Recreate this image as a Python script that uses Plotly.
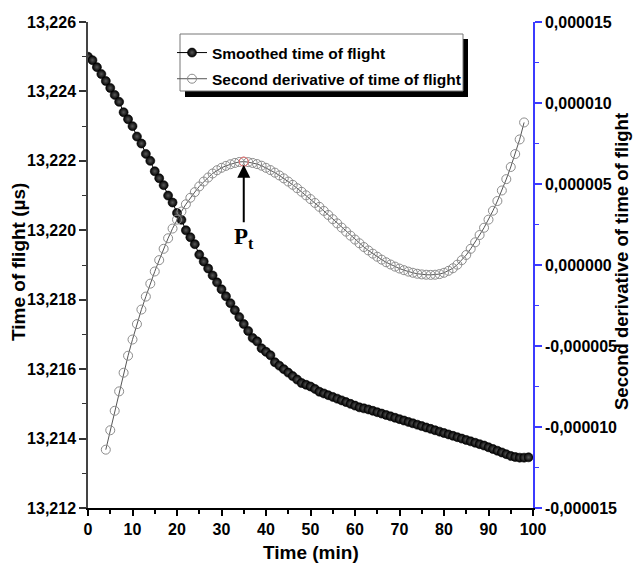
import plotly.graph_objects as go

# Smoothed time of flight (µs), one sample per minute
time_tof = list(range(0, 100))
tof_smoothed = [
    13.2250, 13.2249, 13.2247, 13.2245, 13.2243, 13.2241, 13.2239, 13.2237, 13.2234, 13.2232,
    13.2230, 13.2227, 13.2225, 13.2222, 13.2220, 13.2217, 13.2215, 13.2213, 13.2210, 13.2208,
    13.2205, 13.2203, 13.2200, 13.2198, 13.2196, 13.2193, 13.2191, 13.2189, 13.2187, 13.2185,
    13.2183, 13.2181, 13.2179, 13.2177, 13.2175, 13.2173, 13.2171, 13.2169, 13.2168, 13.2166,
    13.2165, 13.2164, 13.2162, 13.2161, 13.2160, 13.2159, 13.2158, 13.2157, 13.2156, 13.21555,
    13.2155, 13.21543, 13.21535, 13.2153, 13.21525, 13.2152, 13.21515, 13.2151, 13.21505, 13.2150,
    13.21495, 13.2149, 13.21487, 13.21484, 13.2148, 13.21476, 13.21472, 13.21468, 13.21464, 13.2146,
    13.21456, 13.21452, 13.21448, 13.21444, 13.2144, 13.21436, 13.21432, 13.21428, 13.21424, 13.2142,
    13.21416, 13.21412, 13.21408, 13.21404, 13.2140, 13.21396, 13.21392, 13.21388, 13.21384, 13.2138,
    13.21375, 13.2137, 13.21365, 13.2136, 13.21355, 13.2135, 13.21347, 13.21345, 13.21345, 13.21346,
]

# Second derivative of the time of flight, in units of 1e-6
time_d2 = list(range(4, 99))
d2_micro = [
    -11.4, -10.2, -9.0, -7.8, -6.65, -5.6, -4.6, -3.65, -2.75, -1.95,
    -1.15, -0.4, 0.3, 1.0, 1.65, 2.25, 2.8, 3.3, 3.75, 4.15,
    4.5, 4.85, 5.15, 5.4, 5.65, 5.85, 6.0, 6.12, 6.22, 6.3,
    6.36, 6.38, 6.35, 6.3, 6.23, 6.13, 6.0, 5.86, 5.7, 5.53,
    5.35, 5.15, 4.95, 4.74, 4.52, 4.3, 4.07, 3.83, 3.59, 3.34,
    3.09, 2.83, 2.57, 2.31, 2.06, 1.81, 1.57, 1.34, 1.11, 0.9,
    0.7, 0.51, 0.33, 0.17, 0.03, -0.1, -0.22, -0.32, -0.41, -0.48,
    -0.54, -0.58, -0.6, -0.61, -0.6, -0.56, -0.48, -0.36, -0.2, 0.02,
    0.3, 0.62, 1.0, 1.4, 1.85, 2.3, 2.8, 3.35, 3.95, 4.6,
    5.3, 6.05, 6.85, 7.75, 8.8,
]
MICRO = 1e-6
d2 = [v * MICRO for v in d2_micro]

# Inflection point P_t: first local maximum of the second derivative
i_peak = next(i for i in range(1, len(d2) - 1) if d2[i] >= d2[i - 1] and d2[i] >= d2[i + 1])
t_peak, d2_peak = time_d2[i_peak], d2[i_peak]

x_ticks = [0, 10, 20, 30, 40, 50, 60, 70, 80, 90, 100]
y2_tickvals = [-15e-6, -10e-6, -5e-6, 0.0, 5e-6, 10e-6, 15e-6]
y2_ticktext = ["-0,000015", "-0,000010", "-0,000005", "0,000000",
               "0,000005", "0,000010", "0,000015"]

W, H = 633, 572
ML, MR, MT, MB = 88, 100, 22, 64
PW, PH = W - ML - MR, H - MT - MB


def px(xp):
    return (xp - ML) / PW


def py(yp):
    return (H - MB - yp) / PH


FONT = "Liberation Sans, Arial, sans-serif"
tick_font = dict(family=FONT, size=16, color="black", weight="bold")
title_font = dict(family=FONT, size=19, color="black", weight="bold")
BLUE = "#3b3bff"

fig = go.Figure()

fig.add_trace(go.Scatter(
    x=time_d2, y=d2, yaxis="y2", xaxis="x",
    name="Second derivative of time of flight",
    mode="lines+markers",
    line=dict(color="#555555", width=1),
    marker=dict(symbol="circle-open", size=9, color="#8c8c8c", line=dict(width=1)),
    legendrank=2, legendgroup="d2",
))

fig.add_trace(go.Scatter(
    x=time_tof, y=tof_smoothed, yaxis="y", xaxis="x",
    name="Smoothed time of flight",
    mode="lines+markers",
    line=dict(color="black", width=1),
    marker=dict(symbol="circle", size=9, color="#000000",
                gradient=dict(type="radial", color="#585858"),
                line=dict(color="#000000", width=0.6)),
    legendrank=1, legendgroup="tof",
))

fig.add_trace(go.Scatter(
    x=[t_peak], y=[d2_peak], yaxis="y2", xaxis="x",
    mode="markers", showlegend=False, hoverinfo="skip",
    marker=dict(symbol="circle-open", size=9, color="#f07070", line=dict(width=1)),
))

# Legend frame with drop shadow
shapes = [
    dict(type="rect", xref="paper", yref="paper", layer="above",
         x0=px(185), x1=px(468), y0=py(97), y1=py(39),
         fillcolor="black", line=dict(width=0)),
    dict(type="rect", xref="paper", yref="paper", layer="above",
         x0=px(180), x1=px(463), y0=py(91), y1=py(34),
         fillcolor="white", line=dict(color="#777777", width=1)),
]

annotations = [
    dict(text="Time (min)", xref="paper", yref="paper", x=0.5, y=py(552),
         xanchor="center", yanchor="middle", showarrow=False, font=title_font),
    dict(text="Time of flight (µs)", xref="paper", yref="paper", x=px(18), y=py(262),
         xanchor="center", yanchor="middle", textangle=-90, showarrow=False, font=title_font),
    dict(text="Second derivative of time of flight", xref="paper", yref="paper",
         x=px(621), y=py(262), xanchor="center", yanchor="middle", textangle=-90,
         showarrow=False, font=dict(family=FONT, size=18.5, color="black", weight="bold")),
    dict(text="P<sub>t</sub>", x=t_peak, y=d2_peak, xref="x", yref="y2",
         showarrow=True, ax=0, ay=76, arrowhead=2, arrowsize=1.3, arrowwidth=2,
         arrowcolor="black", standoff=3,
         font=dict(family="Liberation Serif, Times New Roman, serif", size=23,
                   color="black", weight="bold")),
]

fig.update_layout(
    width=W, height=H,
    margin=dict(l=ML, r=MR, t=MT, b=MB, pad=0),
    paper_bgcolor="white", plot_bgcolor="white",
    separators=",.",
    showlegend=True,
    legend=dict(x=px(172), y=py(36), xanchor="left", yanchor="top",
                xref="paper", yref="paper",
                bgcolor="rgba(0,0,0,0)", borderwidth=0,
                tracegroupgap=3,
                font=dict(family=FONT, size=15.5, color="black", weight="bold")),
    xaxis=dict(range=[0, 100], tickvals=x_ticks, ticks="outside", ticklen=6,
               tickwidth=1.5, tickcolor="black", showline=True, linecolor="black",
               linewidth=1.5, showgrid=False, zeroline=False, tickfont=tick_font,
               minor=dict(dtick=5, tick0=0, ticks="outside", ticklen=4, tickcolor="black",
                          tickwidth=1.5)),
    xaxis2=dict(range=[0, 100], overlaying="x", side="top", tickvals=x_ticks,
                ticks="inside", ticklen=5, tickwidth=1.2, tickcolor="black",
                showticklabels=False, showline=True, linecolor="black", linewidth=1.5,
                showgrid=False, zeroline=False,
                minor=dict(dtick=5, tick0=0, ticks="inside", ticklen=3, tickcolor="black")),
    yaxis=dict(range=[13.212, 13.226], dtick=0.002, tick0=13.212, tickformat=".3f",
               ticks="outside", ticklen=7, tickwidth=1.5, tickcolor="#333333",
               showline=True, linecolor="#444444", linewidth=1.5, showgrid=False,
               zeroline=False, tickfont=tick_font,
               minor=dict(dtick=0.001, tick0=13.212, ticks="outside", ticklen=4,
                          tickcolor="#333333", tickwidth=1.2)),
    yaxis2=dict(range=[-1.5e-5, 1.5e-5], tickvals=y2_tickvals, ticktext=y2_ticktext,
                overlaying="y", side="right", anchor="x",
                ticks="outside", ticklen=7, tickwidth=1.5, tickcolor=BLUE,
                showline=True, linecolor=BLUE, linewidth=1.5, showgrid=False,
                zeroline=False, tickfont=tick_font,
                minor=dict(dtick=2.5e-6, tick0=0, ticks="outside", ticklen=4,
                           tickcolor=BLUE, tickwidth=1.2)),
    shapes=shapes,
    annotations=annotations,
)

fig.write_html("out.html")
